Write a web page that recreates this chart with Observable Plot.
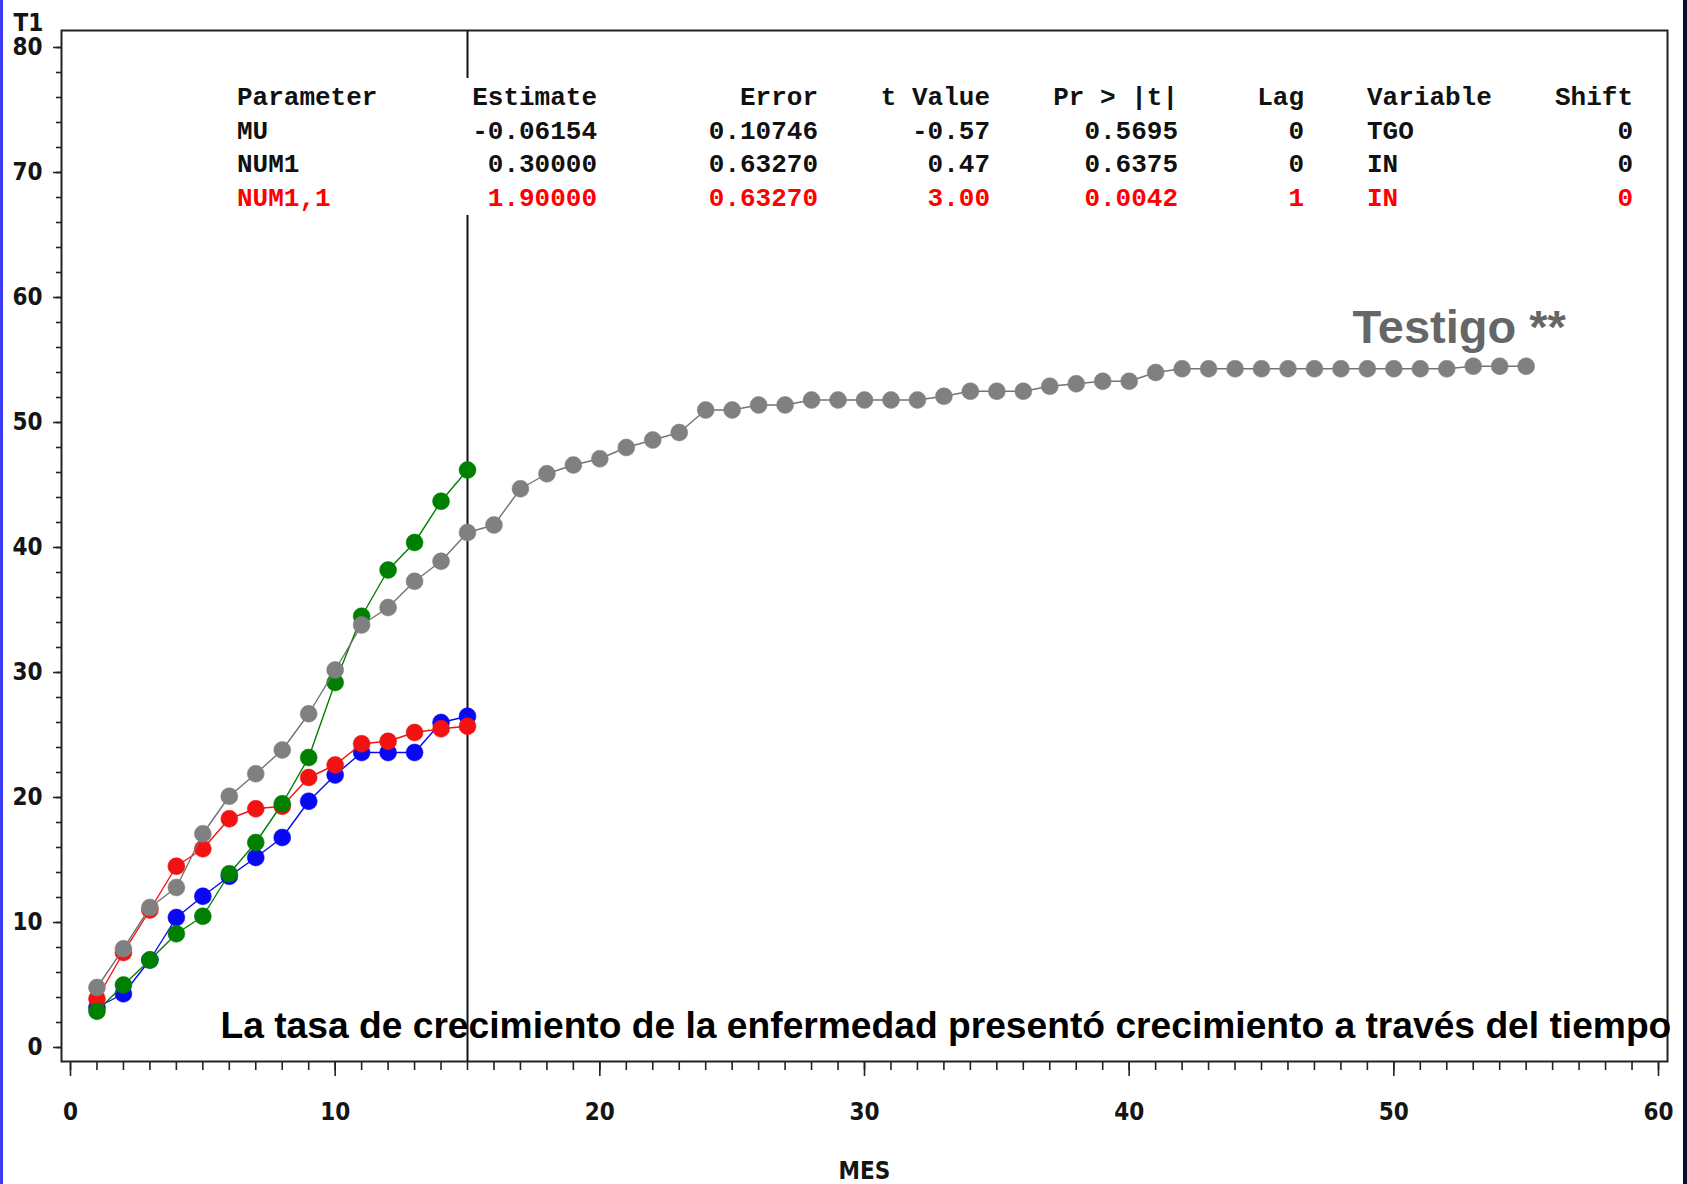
<!DOCTYPE html>
<html>
<head>
<meta charset="utf-8">
<script src="https://cdn.jsdelivr.net/npm/d3@7"></script>
<script src="https://cdn.jsdelivr.net/npm/@observablehq/plot@0.6"></script>
<style>
  html, body { margin: 0; padding: 0; background: #fff; }
  #chart { position: relative; width: 1687px; height: 1184px; overflow: hidden; background: #fff; }
  #chart svg { display: block; }
  .edge-left { position: absolute; left: 0; top: 0; width: 3px; height: 100%; background: #3b3bf6; }
  .edge-right { position: absolute; right: 0; top: 0; width: 4px; height: 100%; background: #0b0b2e; }
</style>
</head>
<body>
<div id="chart"><div class="edge-left"></div><div class="edge-right"></div></div>
<script>
// Months observed for the three treated groups and for the control group
const mesTratados = [1, 2, 3, 4, 5, 6, 7, 8, 9, 10, 11, 12, 13, 14, 15];
const mesTestigo = [1, 2, 3, 4, 5, 6, 7, 8, 9, 10, 11, 12, 13, 14, 15, 16, 17, 18, 19, 20,
  21, 22, 23, 24, 25, 26, 27, 28, 29, 30, 31, 32, 33, 34, 35, 36, 37, 38, 39, 40,
  41, 42, 43, 44, 45, 46, 47, 48, 49, 50, 51, 52, 53, 54, 55];

// T1 values per series
const serieAzul = [3.2, 4.3, 7.0, 10.4, 12.1, 13.7, 15.2, 16.8, 19.7, 21.8, 23.6, 23.6, 23.6, 26.0, 26.5];
const serieRoja = [3.9, 7.6, 11.0, 14.5, 15.9, 18.3, 19.1, 19.3, 21.6, 22.6, 24.3, 24.5, 25.2, 25.5, 25.7];
const serieVerde = [2.9, 5.0, 7.0, 9.1, 10.5, 13.9, 16.4, 19.5, 23.2, 29.2, 34.5, 38.2, 40.4, 43.7, 46.2];
const serieTestigo = [4.8, 7.9, 11.2, 12.8, 17.1, 20.1, 21.9, 23.8, 26.7, 30.2,
  33.8, 35.2, 37.3, 38.9, 41.2, 41.8, 44.7, 45.9, 46.6, 47.1,
  48.0, 48.6, 49.2, 51.0, 51.0, 51.4, 51.4, 51.8, 51.8, 51.8,
  51.8, 51.8, 52.1, 52.5, 52.5, 52.5, 52.9, 53.1, 53.3, 53.3,
  54.0, 54.3, 54.3, 54.3, 54.3, 54.3, 54.3, 54.3, 54.3, 54.3,
  54.3, 54.3, 54.5, 54.5, 54.5];

// Month of the intervention
const mesIntervencion = [15];

// Axis ticks
const ticksMayoresX = [0, 10, 20, 30, 40, 50, 60];
const ticksMenoresX = [0, 1, 2, 3, 4, 5, 6, 7, 8, 9, 10, 11, 12, 13, 14, 15, 16, 17, 18, 19, 20,
  21, 22, 23, 24, 25, 26, 27, 28, 29, 30, 31, 32, 33, 34, 35, 36, 37, 38, 39, 40,
  41, 42, 43, 44, 45, 46, 47, 48, 49, 50, 51, 52, 53, 54, 55, 56, 57, 58, 59, 60];
const ticksMayoresY = [0, 10, 20, 30, 40, 50, 60, 70, 80];
const ticksMenoresY = [0, 2, 4, 6, 8, 10, 12, 14, 16, 18, 20, 22, 24, 26, 28, 30, 32, 34, 36, 38,
  40, 42, 44, 46, 48, 50, 52, 54, 56, 58, 60, 62, 64, 66, 68, 70, 72, 74, 76, 78, 80];

// Transfer-function parameter estimates
const tablaEncabezados = ["Parameter", "Estimate", "Error", "t Value", "Pr > |t|", "Lag", "Variable", "Shift"];
const tablaFilas = [
  ["MU", "-0.06154", "0.10746", "-0.57", "0.5695", "0", "TGO", "0"],
  ["NUM1", "0.30000", "0.63270", "0.47", "0.6375", "0", "IN", "0"],
  ["NUM1,1", "1.90000", "0.63270", "3.00", "0.0042", "1", "IN", "0"]
];

const colores = {azul: "#0808f4", roja: "#f21212", verde: "#008000", testigo: "#808080"};

const aFilas = (meses, valores, grupo) => meses.map((m, i) => ({mes: m, t1: valores[i], grupo}));
const azul = aFilas(mesTratados, serieAzul, "azul");
const roja = aFilas(mesTratados, serieRoja, "roja");
const verde = aFilas(mesTratados, serieVerde, "verde");
const testigo = aFilas(mesTestigo, serieTestigo, "testigo");

const fuenteEjes = '"DejaVu Sans Condensed", "DejaVu Sans", sans-serif';
const fuenteTexto = '"Liberation Sans", Arial, sans-serif';

const serie = (datos, color, lineColor) => [
  Plot.line(datos, {x: "mes", y: "t1", stroke: lineColor || color, strokeWidth: 1.4}),
  Plot.dot(datos, {x: "mes", y: "t1", r: 8.5, fill: color, stroke: color, strokeWidth: 0.5})
];

const plot = Plot.plot({
  width: 1687,
  height: 1184,
  marginLeft: 61,
  marginRight: 20,
  marginTop: 30,
  marginBottom: 123,
  style: {fontFamily: fuenteEjes, fontStretch: "condensed", fontSize: "24px", fontWeight: "bold", color: "#151515", background: "#fff"},
  x: {domain: [0, 60], insetLeft: 9, insetRight: 9},
  y: {domain: [0, 80], insetTop: 17, insetBottom: 14},
  marks: [
    Plot.frame({stroke: "#222", strokeWidth: 2}),
    Plot.axisX({ticks: ticksMenoresX, tickSize: 9, fill: "none", label: null, stroke: "#222", strokeWidth: 1.6}),
    Plot.axisX({ticks: ticksMayoresX, tickSize: 15, tickPadding: 26, label: null, stroke: "#222", strokeWidth: 1.6, tickFormat: d => String(d)}),
    Plot.axisY({ticks: ticksMenoresY, tickSize: 5, fill: "none", label: null, stroke: "#222", strokeWidth: 1.6}),
    Plot.axisY({ticks: ticksMayoresY, tickSize: 8, tickPadding: 11, label: null, stroke: "#222", strokeWidth: 1.6, tickFormat: d => String(d)}),
    Plot.ruleX(mesIntervencion, {stroke: "#111", strokeWidth: 2}),
    ...serie(azul, colores.azul),
    ...serie(roja, colores.roja),
    ...serie(verde, colores.verde),
    ...serie(testigo, colores.testigo, "#737373"),
    Plot.text(["T1"], {text: d => d, frameAnchor: "top-left", dx: -48, dy: 0, textAnchor: "start", lineAnchor: "bottom"}),
    Plot.text(["MES"], {text: d => d, frameAnchor: "bottom", dy: 110, lineAnchor: "middle"}),
    Plot.text(["Testigo **"], {text: d => d, x: 48.44, y: 56.4, textAnchor: "start", lineAnchor: "bottom",
      fontFamily: fuenteTexto, fontSize: 47, fontWeight: "bold", fill: "#666"}),
    Plot.text(["La tasa de crecimiento de la enfermedad presentó crecimiento a través del tiempo"], {
      text: d => d, frameAnchor: "bottom-left", dx: 159, dy: -24, textAnchor: "start", lineAnchor: "bottom",
      fontFamily: fuenteTexto, fontSize: 37.2, fontWeight: "bold", fill: "#000"})
  ]
});

// Parameter table drawn over a white panel in the upper part of the plot
const svg = d3.select(plot);
const columnasX = [237, 597, 818, 990, 1178, 1304, 1367, 1633];
const columnasAncla = ["start", "end", "end", "end", "end", "end", "start", "end"];
const filasBase = [105, 138.5, 172, 205.5];
const coloresFila = ["#111", "#111", "#111", "#f00"];

const tabla = svg.append("g")
  .attr("font-family", '"Liberation Mono", "DejaVu Sans Mono", monospace')
  .attr("font-size", 26)
  .attr("font-weight", "bold")
  .attr("font-stretch", "normal");
tabla.append("rect").attr("x", 225).attr("y", 78).attr("width", 1420).attr("height", 137).attr("fill", "#fff");
[tablaEncabezados, ...tablaFilas].forEach((fila, i) => {
  fila.forEach((celda, j) => {
    tabla.append("text")
      .attr("x", columnasX[j])
      .attr("y", filasBase[i])
      .attr("text-anchor", columnasAncla[j])
      .attr("fill", coloresFila[i])
      .attr("xml:space", "preserve")
      .text(celda);
  });
});

document.getElementById("chart").prepend(plot);
</script>
</body>
</html>
